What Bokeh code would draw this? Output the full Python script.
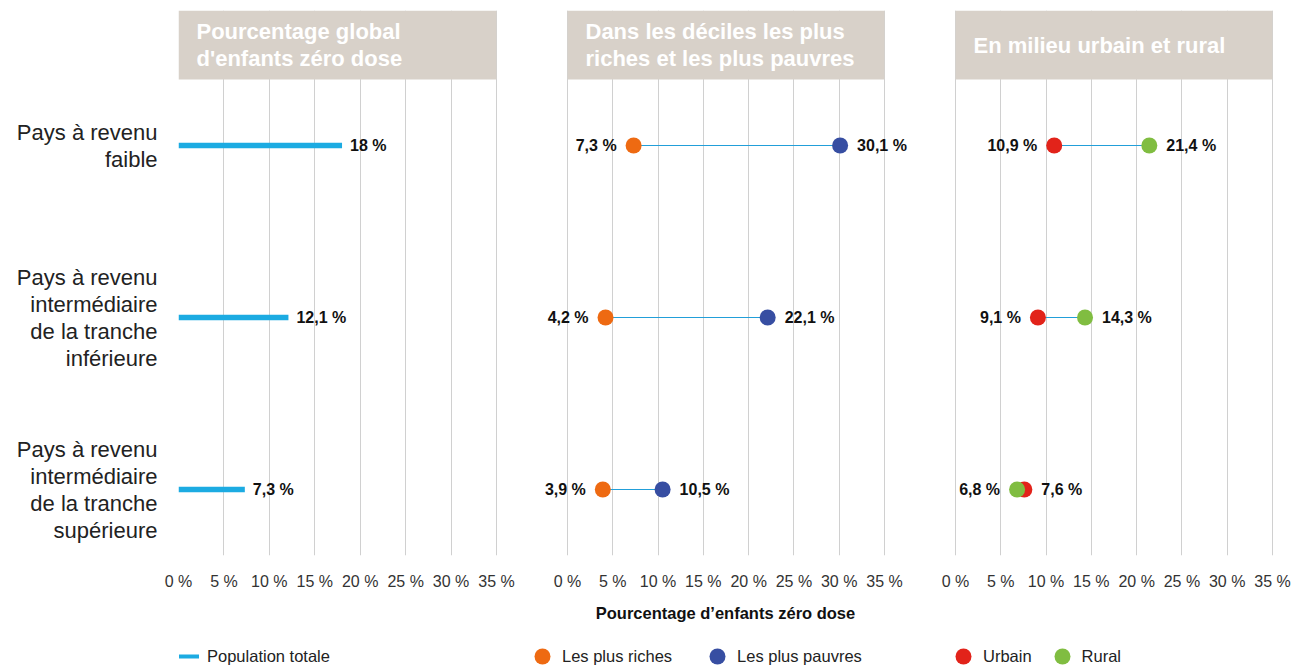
from bokeh.plotting import figure
from bokeh.models import ColumnDataSource, Range1d, FixedTicker, Legend, LegendItem
from bokeh.layouts import row, column
from bokeh.embed import file_html
from bokeh.resources import INLINE
from bokeh.core.properties import value

# ---------------- data ----------------
categories = [
    "Pays à revenu\nfaible",
    "Pays à revenu\nintermédiaire\nde la tranche\ninférieure",
    "Pays à revenu\nintermédiaire\nde la tranche\nsupérieure",
]
total = [18, 12.1, 7.3]
richest = [7.3, 4.2, 3.9]
poorest = [30.1, 22.1, 10.5]
urban = [10.9, 9.1, 7.6]
rural = [21.4, 14.3, 6.8]
x_ticks = [0, 5, 10, 15, 20, 25, 30, 35]
x_tick_labels = ["0 %", "5 %", "10 %", "15 %", "20 %", "25 %", "30 %", "35 %"]
panel_titles = [
    "Pourcentage global\nd'enfants zéro dose",
    "Dans les déciles les plus\nriches et les plus pauvres",
    "En milieu urbain et rural",
]
axis_title = "Pourcentage d\u2019enfants zéro dose"
legend_labels = ["Population totale", "Les plus riches", "Les plus pauvres", "Urbain", "Rural"]

# ---------------- style ----------------
FONT = "Liberation Sans"
C_TOTAL = "#1CABE2"
C_RICH = "#EE6A12"
C_POOR = "#374EA2"
C_URBAN = "#E2231A"
C_RURAL = "#80BD41"
C_HEAD = "#D8D1C9"
C_LINK = "#229FD9"
GRID = "#D0D0D0"

XMAX = 35
ypos = [2, 1, 0]  # row order, top to bottom
Y0, Y1 = -0.3837, 2.7849
HEAD_B = 2.3837
H = 630
FRAME_TOP = 10
FRAME_H = 545


def fmt(v):
    return ("%g" % v).replace(".", ",") + " %"


def make_fig(width, left_border, pad_l, span, pad_r):
    upx = XMAX / span
    p = figure(width=width, height=H,
               x_range=Range1d(-pad_l * upx, XMAX + pad_r * upx), y_range=Range1d(Y0, Y1),
               output_backend="svg", toolbar_location=None,
               min_border_left=left_border, min_border_right=0,
               min_border_top=FRAME_TOP, min_border_bottom=H - FRAME_TOP - FRAME_H)
    p.outline_line_color = None
    p.ygrid.visible = False
    p.xgrid.ticker = FixedTicker(ticks=x_ticks)
    p.xgrid.grid_line_color = GRID
    p.xgrid.grid_line_width = 1
    ax = p.xaxis[0]
    ax.ticker = FixedTicker(ticks=x_ticks)
    ax.major_label_overrides = {t: l for t, l in zip(x_ticks, x_tick_labels)}
    ax.axis_line_color = None
    ax.major_tick_line_color = None
    ax.minor_tick_line_color = None
    ax.major_tick_out = 0
    ax.major_tick_in = 0
    ax.major_label_standoff = 17
    ax.major_label_text_font = FONT
    ax.major_label_text_font_size = "16px"
    ax.major_label_text_color = "#333333"
    return p


def add_header(p, title):
    p.quad(left=[0], right=[XMAX], bottom=[HEAD_B], top=[Y1], fill_color=C_HEAD, line_color=None)
    p.text(x=[0], y=[(HEAD_B + Y1) / 2], text=[title], x_offset=18,
           text_font=value(FONT), text_font_style="bold", text_font_size="22px",
           text_color="white", text_align="left", text_baseline="middle",
           text_line_height=1.05)


def value_labels(p, xs, offset, align):
    src = ColumnDataSource(dict(x=xs, y=ypos, t=[fmt(v) for v in xs]))
    p.text(x="x", y="y", text="t", source=src, x_offset=offset,
           text_font=value(FONT), text_font_style="bold", text_font_size="16px",
           text_color="#111111", text_align=align, text_baseline="middle")


# ---------------- panel 1 ----------------
p1 = make_fig(531, 178, 0, 318, 35)
add_header(p1, panel_titles[0])
src1 = ColumnDataSource(dict(x0=[0] * len(total), x1=total, y=ypos))
p1.segment(x0="x0", y0="y", x1="x1", y1="y", source=src1,
           line_color=C_TOTAL, line_width=5.5, line_cap="butt")
value_labels(p1, total, 8, "left")
ay = p1.yaxis[0]
ay.ticker = FixedTicker(ticks=ypos)
ay.major_label_overrides = {y: c for y, c in zip(ypos, categories)}
ay.axis_line_color = None
ay.major_tick_line_color = None
ay.minor_tick_line_color = None
ay.major_tick_out = 0
ay.major_tick_in = 0
ay.major_label_standoff = 21
ay.major_label_text_font = FONT
ay.major_label_text_font_size = "22px"
ay.major_label_text_color = "#222222"
ay.major_label_text_line_height = 1.08


def dumbbell(p, a, b, ca, cb):
    lo = [min(u, v) for u, v in zip(a, b)]
    hi = [max(u, v) for u, v in zip(a, b)]
    src = ColumnDataSource(dict(a=a, b=b, y=ypos))
    p.segment(x0="a", y0="y", x1="b", y1="y", source=src, line_color=C_LINK, line_width=1.2)
    p.scatter(x="b", y="y", source=src, size=16, fill_color=cb, line_color=None)
    p.scatter(x="a", y="y", source=src, size=16, fill_color=ca, line_color=None)
    value_labels(p, lo, -17, "right")
    value_labels(p, hi, 17, "left")
    p.yaxis.visible = False


# ---------------- panel 2 ----------------
p2 = make_fig(388, 0, 36, 317, 35)
add_header(p2, panel_titles[1])
dumbbell(p2, richest, poorest, C_RICH, C_POOR)
p2.xaxis.axis_label = axis_title
p2.xaxis.axis_label_text_font = FONT
p2.xaxis.axis_label_text_font_style = "bold"
p2.xaxis.axis_label_text_font_size = "16.5px"
p2.xaxis.axis_label_text_color = "#111111"
p2.xaxis.axis_label_standoff = 11

# ---------------- panel 3 ----------------
p3 = make_fig(375, 0, 36, 317, 22)
add_header(p3, panel_titles[2])
# urban drawn on top of rural
dumbbell(p3, rural, urban, C_RURAL, C_URBAN)

# ---------------- legends (hidden proxy renderers) ----------------
lf = figure(width=1294, height=36, x_range=Range1d(0, 1), y_range=Range1d(0, 1),
            output_backend="svg", toolbar_location=None,
            min_border_left=0, min_border_right=0, min_border_top=0, min_border_bottom=0)
lf.axis.visible = False
lf.grid.visible = False
lf.outline_line_color = None
r_leg_tot = lf.segment(x0=[0] * len(total), y0=ypos, x1=total, y1=ypos,
                       line_color=C_TOTAL, line_width=4, line_cap="round", visible=False)
r_leg_rich = lf.scatter(x=richest, y=ypos, size=16, fill_color=C_RICH, line_color=None, visible=False)
r_leg_poor = lf.scatter(x=poorest, y=ypos, size=16, fill_color=C_POOR, line_color=None, visible=False)
r_leg_urb = lf.scatter(x=urban, y=ypos, size=16, fill_color=C_URBAN, line_color=None, visible=False)
r_leg_rur = lf.scatter(x=rural, y=ypos, size=16, fill_color=C_RURAL, line_color=None, visible=False)


def add_legend(items, x, glyph_w, standoff, spacing):
    lg = Legend(items=items, location=(x, -10), orientation="horizontal",
                glyph_width=glyph_w, glyph_height=40, label_standoff=standoff,
                spacing=spacing, padding=0, margin=0, border_line_color=None,
                background_fill_alpha=0, inactive_fill_alpha=0,
                label_text_font=FONT,
                label_text_font_size="16.5px", label_text_color="#222222")
    lf.add_layout(lg, "center")


add_legend([LegendItem(label=legend_labels[0], renderers=[r_leg_tot])], 179, 20, 8, 10)
add_legend([LegendItem(label=legend_labels[1], renderers=[r_leg_rich]),
            LegendItem(label=legend_labels[2], renderers=[r_leg_poor])], 522, 40, -2, 25)
add_legend([LegendItem(label=legend_labels[3], renderers=[r_leg_urb]),
            LegendItem(label=legend_labels[4], renderers=[r_leg_rur])], 943, 40, -2, 10)

layout = column(row(p1, p2, p3, spacing=0), lf, spacing=0)
open("out.html", "w").write(file_html(layout, INLINE))
